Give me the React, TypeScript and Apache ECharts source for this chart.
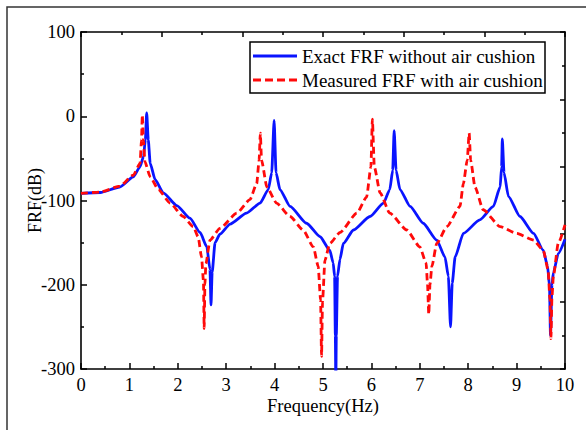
import React, { useEffect, useRef } from "react";
import * as echarts from "echarts";

// Exact FRF without air cushion (blue, solid)
const blueFreq = [
  0, 0.4, 0.8, 1.08, 1.22, 1.29, 1.33, 1.357, 1.39, 1.43, 1.53, 1.7, 1.98, 2.25, 2.46, 2.6, 2.665, 2.686,
  2.71, 2.77, 2.87, 3.08, 3.42, 3.7, 3.87, 3.94, 3.99, 4.03, 4.11, 4.32, 4.66, 4.94, 5.14, 5.21, 5.24,
  5.255, 5.265, 5.275, 5.3, 5.35, 5.42, 5.63, 5.97, 6.25, 6.38, 6.44, 6.47, 6.51, 6.59, 6.8, 7.07, 7.35,
  7.52, 7.59, 7.635, 7.67, 7.73, 7.9, 8.24, 8.52, 8.66, 8.69, 8.705, 8.74, 8.83, 9.07, 9.35, 9.55, 9.64,
  9.68, 9.7, 9.73, 9.76, 9.86, 10,
];
const blueFRF = [
  -91.5, -90.5, -84, -72, -60, -48, -28, 4, -28, -56, -75, -91, -106, -121, -138, -155, -182, -224,
  -185, -150, -140, -128, -115, -103, -87, -67, -5, -67, -87, -107, -127, -143, -159, -174, -190,
  -260, -320, -260, -190, -170, -151, -135, -119, -103, -87, -64, -17, -64, -87, -107, -127, -147,
  -167, -190, -250, -198, -167, -139, -123, -107, -84, -60, -27, -67, -95, -119, -139, -159, -178,
  -202, -260, -200, -186, -163, -146,
];

// Measured FRF with air cushion (red, dashed)
const redFreq = [
  0, 0.4, 0.8, 1.08, 1.22, 1.25, 1.267, 1.29, 1.32, 1.43, 1.6, 1.84, 2.11, 2.32, 2.42, 2.49, 2.53, 2.545,
  2.56, 2.58, 2.665, 2.87, 3.22, 3.49, 3.63, 3.68, 3.705, 3.73, 3.84, 4.04, 4.32, 4.59, 4.8, 4.9, 4.95,
  4.97, 4.99, 5.04, 5.14, 5.35, 5.7, 5.9, 5.99, 6.02, 6.06, 6.18, 6.38, 6.73, 7.0, 7.13, 7.16, 7.185,
  7.21, 7.25, 7.35, 7.56, 7.83, 7.9, 7.98, 8.02, 8.05, 8.14, 8.31, 8.66, 9.0, 9.35, 9.55, 9.65, 9.69,
  9.71, 9.73, 9.76, 9.86, 10,
];
const redFRF = [
  -91.5, -90, -83, -70, -56, -28, 1.5, -28, -54, -72, -87, -103, -119, -131, -143, -167, -195, -252,
  -200, -175, -147, -133, -115, -99, -80, -52, -20, -52, -84, -103, -119, -135, -155, -178, -218,
  -285, -220, -171, -151, -138, -115, -96, -60, -3.5, -60, -91, -115, -135, -155, -174, -200, -235,
  -200, -178, -151, -131, -107, -80, -52, -20, -52, -84, -111, -131, -139, -147, -159, -182, -218,
  -264, -215, -190, -151, -129,
];

const seriesNames = ["Exact FRF without air cushion", "Measured FRF with air cushion"];
const yTicks = { min: -300, max: 100, step: 100 };
const xTicks = { min: 0, max: 10, step: 1 };

const FONT = "Liberation Serif";
const BLUE = "#0a14ff";
const RED = "#ff0a0a";

export default function App() {
  const ref = useRef<HTMLDivElement>(null);

  useEffect(() => {
    if (!ref.current) return;
    const chart = echarts.init(ref.current, undefined, { renderer: "svg" });
    const blueData = blueFreq.map((f, i) => [f, blueFRF[i]]);
    const redData = redFreq.map((f, i) => [f, redFRF[i]]);

    const axisLine = { show: true, onZero: false, lineStyle: { color: "#000", width: 1.6 } };
    const tick = (len: number) => ({
      show: true,
      inside: true,
      length: len,
      lineStyle: { color: "#000", width: 1.5 },
    });
    const minor = { show: true, splitNumber: 2, length: 3, lineStyle: { color: "#000", width: 1.5 } };

    chart.setOption({
      animation: false,
      backgroundColor: "#fff",
      grid: { left: 81, right: 21, top: 32, bottom: 61, containLabel: false },
      graphic: [
        {
          type: "rect",
          silent: true,
          shape: { x: 7, y: 7, width: 640, height: 460 },
          style: { fill: "none", stroke: "#333", lineWidth: 1.5 },
          z: 0,
        },
        {
          type: "group",
          silent: true,
          z: 100,
          children: [
            {
              type: "rect",
              shape: { x: 250, y: 42, width: 295, height: 51 },
              style: { fill: "#fff", stroke: "#000", lineWidth: 1.5 },
            },
            {
              type: "line",
              shape: { x1: 253, y1: 56, x2: 297, y2: 56 },
              style: { stroke: BLUE, lineWidth: 2.8 },
            },
            {
              type: "line",
              shape: { x1: 253, y1: 80, x2: 297, y2: 80 },
              style: { stroke: RED, lineWidth: 2.8, lineDash: [8, 4] },
            },
            {
              type: "text",
              x: 302,
              y: 56,
              style: {
                text: seriesNames[0],
                fontFamily: FONT,
                fontSize: 19,
                fill: "#000",
                verticalAlign: "middle",
                align: "left",
              },
            },
            {
              type: "text",
              x: 302,
              y: 80,
              style: {
                text: seriesNames[1],
                fontFamily: FONT,
                fontSize: 19,
                fill: "#000",
                verticalAlign: "middle",
                align: "left",
              },
            },
          ],
        },
      ],
      xAxis: [
        {
          type: "value",
          position: "bottom",
          min: xTicks.min,
          max: xTicks.max,
          interval: xTicks.step,
          axisLine,
          axisTick: tick(6),
          minorTick: minor,
          splitLine: { show: false },
          axisLabel: {
            show: true,
            margin: 6,
            fontFamily: FONT,
            fontSize: 18.5,
            color: "#000",
            showMinLabel: true,
            showMaxLabel: true,
          },
          name: "Frequency(Hz)",
          nameLocation: "middle",
          nameGap: 27,
          nameMoveOverlap: false,
          nameTextStyle: { fontFamily: FONT, fontSize: 18.5, color: "#000" },
        },
        {
          type: "value",
          position: "top",
          min: 0,
          max: 6,
          interval: 1,
          axisLine,
          axisTick: tick(5),
          minorTick: minor,
          splitLine: { show: false },
          axisLabel: { show: false },
        },
      ],
      yAxis: [
        {
          type: "value",
          position: "left",
          min: yTicks.min,
          max: yTicks.max,
          interval: yTicks.step,
          axisLine,
          axisTick: tick(6),
          minorTick: minor,
          splitLine: { show: false },
          axisLabel: {
            show: true,
            margin: 6,
            fontFamily: FONT,
            fontSize: 18.5,
            color: "#000",
            showMinLabel: true,
            showMaxLabel: true,
          },
          name: "FRF(dB)",
          nameLocation: "middle",
          nameGap: 37,
          nameRotate: 90,
          nameMoveOverlap: false,
          nameTextStyle: { fontFamily: FONT, fontSize: 18, color: "#000" },
        },
        {
          type: "value",
          position: "right",
          min: 0,
          max: 5,
          interval: 1,
          axisLine,
          axisTick: tick(5),
          minorTick: minor,
          splitLine: { show: false },
          axisLabel: { show: false },
        },
      ],
      series: [
        {
          name: seriesNames[0],
          type: "line",
          xAxisIndex: 0,
          yAxisIndex: 0,
          data: blueData,
          symbol: "none",
          smooth: 0.2,
          smoothMonotone: "x",
          clip: true,
          z: 3,
          itemStyle: { color: BLUE },
          lineStyle: { color: BLUE, width: 2.8, type: "solid" },
        },
        {
          name: seriesNames[1],
          type: "line",
          xAxisIndex: 0,
          yAxisIndex: 0,
          data: redData,
          symbol: "none",
          smooth: 0.2,
          smoothMonotone: "x",
          clip: true,
          z: 4,
          itemStyle: { color: RED },
          lineStyle: { color: RED, width: 2.8, type: [7, 4] },
        },
      ],
    });

    return () => chart.dispose();
  }, []);

  return (
    <div
      ref={ref}
      style={{ position: "fixed", left: 0, top: 0, width: 586, height: 430, background: "#fff" }}
    />
  );
}
